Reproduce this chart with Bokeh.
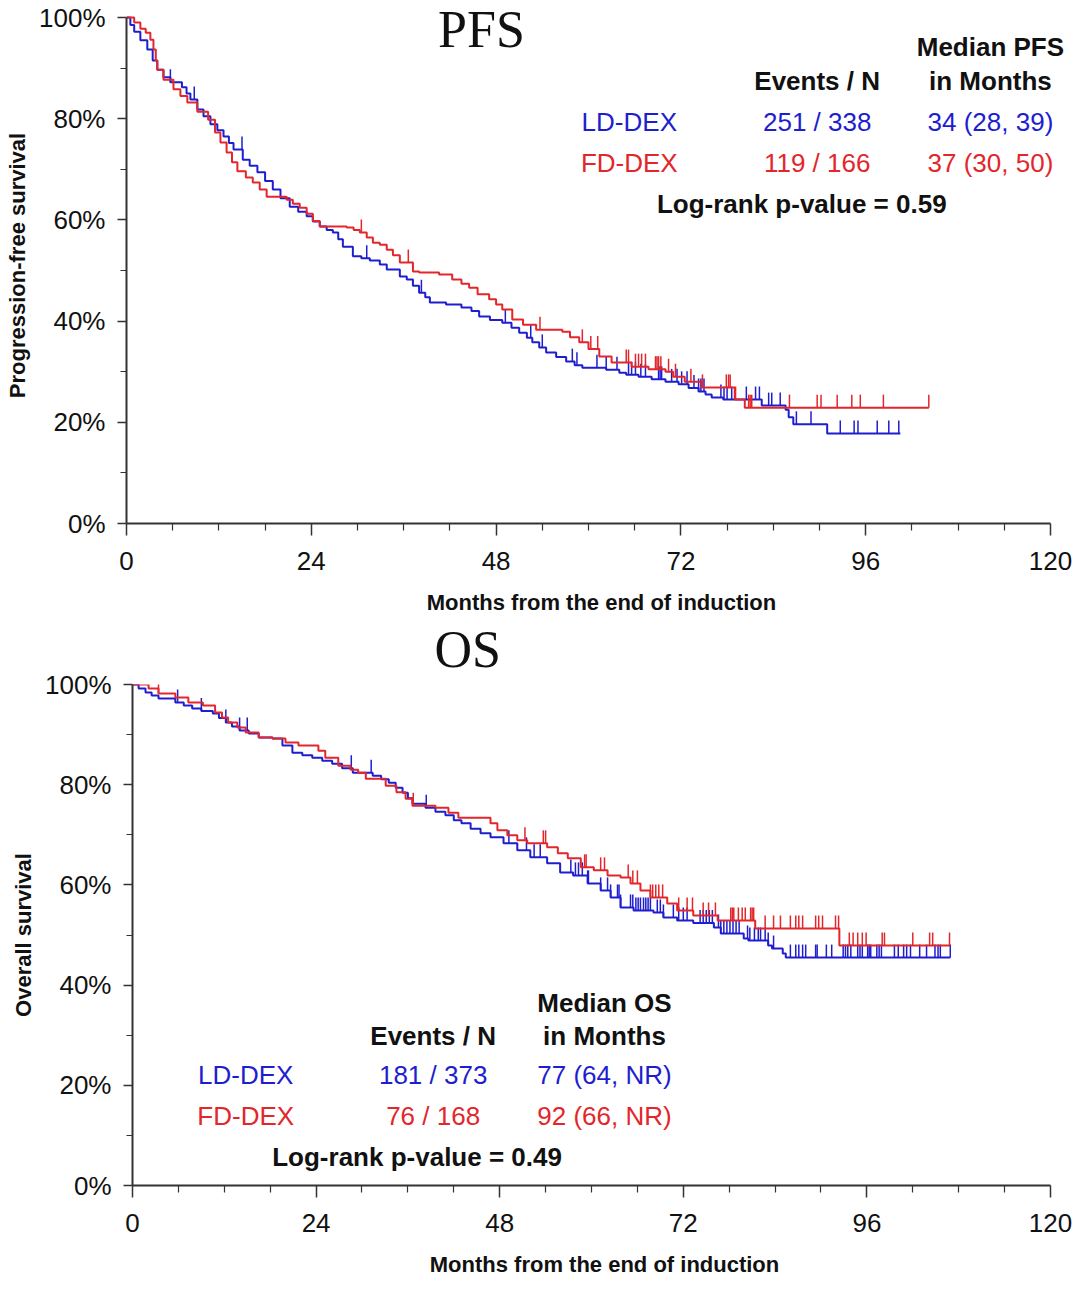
import numpy as np
from bokeh.plotting import figure
from bokeh.models import Range1d, FixedTicker, NumeralTickFormatter, Label, Title
from bokeh.embed import file_html
from bokeh.resources import INLINE

BLUE = "#1e1ecf"
RED = "#e3262b"

# ---------------- PFS data ----------------
pfs_ld_t = [0, 0.5, 1.0, 1.8, 2.7, 3.4, 4.0, 4.8, 5.7, 7.2, 7.8, 8.3, 9.2, 10.0, 10.9, 11.8, 12.6, 13.3,
            13.9, 15.1, 16.0, 17.0, 18.0, 19.0, 20.0, 21.2, 22.3, 23.4, 24.2, 25.1, 26.0, 26.8, 27.5, 28.1,
            29.4, 30.5, 31.6, 32.9, 33.8, 35.5, 36.4, 37.2, 38.0, 38.8, 39.4, 41.5, 43.5, 44.8, 45.8, 47.2,
            48.8, 50.0, 51.0, 52.0, 52.7, 53.6, 54.5, 55.8, 57.1, 58.2, 59.2, 62.3, 64.0, 64.9, 66.5, 68.2,
            70.0, 71.7, 73.0, 74.3, 75.2, 76.0, 77.5, 82.5, 85.6, 86.0, 86.6, 91.0, 100.5]
pfs_ld_s = [1.0, 0.985, 0.972, 0.955, 0.937, 0.915, 0.897, 0.882, 0.872, 0.862, 0.850, 0.838, 0.818, 0.805,
            0.789, 0.777, 0.765, 0.752, 0.739, 0.719, 0.707, 0.694, 0.677, 0.660, 0.643, 0.626, 0.616, 0.607,
            0.597, 0.587, 0.580, 0.575, 0.562, 0.547, 0.528, 0.524, 0.520, 0.512, 0.502, 0.488, 0.482, 0.470,
            0.456, 0.447, 0.437, 0.433, 0.427, 0.420, 0.409, 0.402, 0.397, 0.387, 0.377, 0.367, 0.358, 0.348,
            0.338, 0.329, 0.320, 0.313, 0.308, 0.304, 0.298, 0.294, 0.290, 0.285, 0.280, 0.275, 0.268, 0.261,
            0.255, 0.249, 0.245, 0.233, 0.225, 0.210, 0.196, 0.178, 0.178]
pfs_ld_cens = [5.7, 8.8, 15.0, 31.2, 38.3, 49.2, 52.5, 54.0, 57.9, 58.5, 61.1, 62.3, 63.7, 65.2, 65.6, 66.1,
               66.8, 67.4, 69.1, 69.3, 69.5, 70.8, 71.5, 72.1, 72.8, 73.7, 74.3, 74.6, 75.0, 77.2, 77.6, 78.0,
               78.6, 80.5, 81.7, 82.2, 83.4, 83.8, 84.9, 87.0, 88.9, 92.7, 94.5, 95.0, 97.5, 99.0, 100.3]

pfs_fd_t = [0, 1.0, 1.8, 2.5, 3.1, 3.5, 3.8, 4.0, 4.8, 6.1, 7.0, 7.9, 9.2, 10.6, 11.5, 12.2, 13.0, 13.7,
            14.4, 15.5, 16.4, 17.3, 18.2, 20.8, 21.6, 22.5, 23.4, 24.2, 25.1, 28.6, 29.5, 30.3, 31.2, 32.0,
            32.9, 33.8, 34.6, 35.5, 37.2, 38.0, 40.6, 42.3, 43.5, 44.5, 45.6, 47.1, 48.0, 48.8, 50.1, 51.5,
            53.2, 56.6, 57.6, 58.8, 60.0, 61.4, 63.0, 65.6, 67.8, 70.0, 71.0, 72.5, 74.7, 79.0, 80.3, 104.2]
pfs_fd_s = [1.0, 0.99, 0.978, 0.970, 0.956, 0.937, 0.915, 0.897, 0.877, 0.858, 0.845, 0.832, 0.814, 0.798,
            0.773, 0.753, 0.733, 0.714, 0.696, 0.684, 0.674, 0.660, 0.646, 0.640, 0.632, 0.624, 0.612, 0.598,
            0.587, 0.585, 0.580, 0.575, 0.565, 0.555, 0.551, 0.541, 0.530, 0.516, 0.498, 0.496, 0.492, 0.482,
            0.474, 0.466, 0.453, 0.443, 0.433, 0.423, 0.403, 0.393, 0.383, 0.379, 0.368, 0.358, 0.345, 0.330,
            0.318, 0.310, 0.305, 0.300, 0.290, 0.280, 0.269, 0.245, 0.229, 0.229]
pfs_fd_cens = [30.5, 36.6, 53.7, 59.2, 60.3, 61.2, 64.9, 65.2, 66.1, 66.5, 66.9, 67.4, 68.7, 68.9, 69.1, 69.4,
               70.4, 71.3, 73.3, 74.8, 77.9, 78.2, 78.4, 79.1, 80.8, 81.0, 81.2, 86.1, 89.7, 90.2, 92.3, 94.2,
               95.3, 98.3, 104.2]

# ---------------- OS data ----------------
os_ld_t = [0, 0.8, 1.7, 2.5, 3.4, 5.6, 6.7, 7.8, 9.0, 10.5, 11.3, 12.2, 13.0, 14.0, 15.2, 16.5, 18.3, 19.6,
           20.9, 22.2, 23.5, 24.8, 26.1, 27.4, 28.8, 31.4, 32.5, 33.5, 34.4, 35.3, 36.0, 36.6, 38.3, 39.6,
           40.9, 42.0, 43.0, 44.2, 45.5, 46.8, 48.5, 50.3, 52.0, 54.2, 55.9, 57.6, 59.5, 61.2, 62.5, 63.8,
           65.5, 68.1, 69.4, 71.2, 73.3, 76.0, 76.9, 79.9, 80.5, 83.1, 83.6, 85.0, 85.4, 106.9]
os_ld_s = [1.0, 0.992, 0.984, 0.978, 0.972, 0.964, 0.958, 0.952, 0.947, 0.942, 0.933, 0.924, 0.916, 0.908,
           0.902, 0.894, 0.892, 0.878, 0.864, 0.859, 0.854, 0.848, 0.842, 0.833, 0.824, 0.818, 0.811, 0.804,
           0.794, 0.784, 0.773, 0.762, 0.754, 0.746, 0.739, 0.729, 0.723, 0.712, 0.703, 0.695, 0.683, 0.669,
           0.655, 0.643, 0.625, 0.619, 0.603, 0.589, 0.575, 0.555, 0.549, 0.545, 0.535, 0.529, 0.524, 0.515,
           0.503, 0.493, 0.489, 0.479, 0.473, 0.463, 0.455, 0.455]
os_ld_cens = [5.9, 9.0, 12.2, 14.0, 15.0, 28.6, 31.2, 38.4, 49.2, 51.5, 52.5, 53.3, 57.3, 57.9, 58.3, 58.8,
              59.5, 59.6, 61.2, 62.1, 62.5, 63.4, 63.6, 63.8, 65.1, 65.4, 65.8, 66.1, 66.4, 66.8, 67.1, 67.4,
              67.7, 68.6, 69.0, 69.4, 70.7, 71.4, 72.0, 72.5, 74.2, 74.6, 75.0, 75.4, 75.8, 76.6, 76.9, 77.3,
              77.7, 78.1, 78.5, 78.9, 79.3, 80.4, 80.7, 81.3, 81.8, 82.1, 82.7, 83.1, 83.8, 86.0, 86.7, 87.1,
              87.6, 88.0, 89.3, 89.5, 90.7, 91.4, 92.9, 93.2, 93.5, 93.9, 94.8, 95.1, 95.4, 96.1, 96.3, 96.5,
              97.3, 97.6, 97.9, 99.6, 100.1, 100.8, 101.2, 101.7, 102.9, 103.8, 104.9, 105.3, 105.6, 106.9]

os_fd_t = [0, 2.1, 3.4, 5.6, 7.3, 9.2, 10.8, 11.7, 12.5, 13.7, 14.8, 16.5, 18.3, 20.0, 21.7, 24.3, 25.2,
           26.9, 28.5, 29.5, 30.5, 33.1, 34.5, 35.7, 36.6, 39.6, 41.3, 42.6, 46.8, 47.7, 49.0, 50.3, 51.6,
           54.2, 55.6, 56.9, 58.6, 60.3, 62.1, 63.8, 65.1, 66.4, 67.7, 69.9, 71.2, 73.3, 76.5, 81.4, 92.4,
           106.9]
os_fd_s = [1.0, 0.992, 0.982, 0.974, 0.964, 0.958, 0.944, 0.934, 0.924, 0.914, 0.904, 0.894, 0.892, 0.884,
           0.878, 0.868, 0.854, 0.838, 0.830, 0.824, 0.812, 0.798, 0.785, 0.772, 0.758, 0.754, 0.744, 0.734,
           0.723, 0.709, 0.699, 0.689, 0.683, 0.675, 0.663, 0.653, 0.635, 0.629, 0.619, 0.615, 0.603, 0.589,
           0.575, 0.563, 0.549, 0.539, 0.529, 0.513, 0.479, 0.479]
os_fd_cens = [3.4, 36.7, 51.3, 53.7, 54.0, 59.1, 59.3, 61.2, 61.7, 64.8, 65.4, 66.0, 67.7, 68.0, 68.4, 68.8,
              69.3, 71.4, 72.5, 73.2, 74.6, 75.3, 76.2, 78.2, 78.4, 78.6, 79.2, 79.7, 80.1, 80.8, 81.0, 81.2,
              82.7, 83.8, 84.7, 86.0, 86.7, 87.1, 87.6, 89.3, 89.7, 90.2, 91.9, 92.3, 93.7, 94.2, 94.8, 95.4,
              95.9, 98.0, 98.3, 102.0, 104.2, 104.6, 106.8]

x_ticks = [0, 24, 48, 72, 96, 120]
x_minor = [6, 12, 18, 30, 36, 42, 54, 60, 66, 78, 84, 90, 102, 108, 114]
y_ticks = [0, 0.2, 0.4, 0.6, 0.8, 1.0]
y_minor = [0.1, 0.3, 0.5, 0.7, 0.9]

FONT = "Liberation Sans"


def step_at(ts, ss, tc):
    ts = np.asarray(ts)
    ss = np.asarray(ss)
    idx = np.searchsorted(ts, np.asarray(tc), side="right") - 1
    idx = np.clip(idx, 0, len(ss) - 1)
    return ss[idx]


def make_panel(width, height, borders, x_end, y_end, ylabel, curves):
    left, right, top, bottom = borders
    p = figure(width=width, height=height, output_backend="svg", toolbar_location=None,
               x_range=Range1d(0, x_end), y_range=Range1d(0, y_end),
               min_border_left=left, min_border_right=right, min_border_top=top,
               min_border_bottom=bottom)
    p.xgrid.visible = False
    p.ygrid.visible = False
    p.outline_line_color = None
    p.background_fill_color = "white"
    p.border_fill_color = "white"

    for ax in (p.xaxis[0], p.yaxis[0]):
        ax.axis_line_width = 2
        ax.axis_line_color = "#333333"
        ax.major_tick_line_color = "#333333"
        ax.minor_tick_line_color = "#333333"
        ax.major_tick_line_width = 1.5
        ax.minor_tick_line_width = 1.2
        ax.major_tick_in = 0
        ax.minor_tick_in = 0
        ax.major_label_text_font = FONT
        ax.major_label_text_font_size = "26px"
        ax.major_label_text_color = "#111111"
        ax.axis_label_text_font = FONT
        ax.axis_label_text_font_style = "bold"
        ax.axis_label_text_font_size = "22px"
        ax.axis_label_text_color = "#111111"

    p.xaxis.bounds = (0, 120)
    p.xaxis.ticker = FixedTicker(ticks=x_ticks, minor_ticks=x_minor)
    p.xaxis.major_tick_out = 12
    p.xaxis.minor_tick_out = 7
    p.xaxis.major_label_standoff = 16
    p.xaxis.axis_label = "Months from the end of induction"
    p.xaxis.axis_label_standoff = 17

    p.yaxis.bounds = (0, 1)
    p.yaxis.ticker = FixedTicker(ticks=y_ticks, minor_ticks=y_minor)
    p.yaxis.formatter = NumeralTickFormatter(format="0%")
    p.yaxis.major_tick_out = 9
    p.yaxis.minor_tick_out = 6
    p.yaxis.major_label_standoff = 12
    p.yaxis.axis_label = ylabel
    p.yaxis.axis_label_standoff = 6

    for ts, ss, cens, col in curves:
        p.step(x=ts, y=ss, mode="after", line_color=col, line_width=2)
        cy = step_at(ts, ss, cens)
        p.ray(x=cens, y=cy, length=13, length_units="screen", angle=np.pi / 2,
              line_color=col, line_width=1.5)
    return p


def add_text(p, x, y, text, color="#111111", bold=False, size="26px", font=FONT, align="center"):
    p.add_layout(Label(x=x, y=y, text=text, text_color=color, text_font=font,
                       text_font_size=size, text_font_style="bold" if bold else "normal",
                       text_align=align, text_baseline="middle"))


# ---- top: PFS ----
p1 = make_panel(1076, 622, (126, 0, 7, 99), 123.38, 1.0198, "Progression-free survival",
                [(pfs_ld_t, pfs_ld_s, pfs_ld_cens, BLUE), (pfs_fd_t, pfs_fd_s, pfs_fd_cens, RED)])
add_text(p1, 46.1, 0.976, "PFS", size="52px", font="Liberation Serif")
add_text(p1, 112.2, 0.941, "Median PFS", bold=True)
add_text(p1, 112.2, 0.875, "in Months", bold=True)
add_text(p1, 89.7, 0.875, "Events / N", bold=True)
add_text(p1, 65.3, 0.794, "LD-DEX", color=BLUE)
add_text(p1, 89.7, 0.794, "251 / 338", color=BLUE)
add_text(p1, 112.2, 0.794, "34 (28, 39)", color=BLUE)
add_text(p1, 65.3, 0.713, "FD-DEX", color=RED)
add_text(p1, 89.7, 0.713, "119 / 166", color=RED)
add_text(p1, 112.2, 0.713, "37 (30, 50)", color=RED)
add_text(p1, 87.7, 0.632, "Log-rank p-value = 0.59", bold=True)

# ---- bottom: OS ----
p2 = make_panel(1076, 678, (132, 0, 72, 105), 123.4, 1.0, "Overall survival",
                [(os_ld_t, os_ld_s, os_ld_cens, BLUE), (os_fd_t, os_fd_s, os_fd_cens, RED)])
p2.border_fill_color = None
p2.styles = {"margin-top": "-10px"}
p2.add_layout(Title(text="OS", text_font="Liberation Serif", text_font_size="52px",
                    text_font_style="normal", text_color="#111111", align="left",
                    offset=302, standoff=10, vertical_align="top"), "above")
add_text(p2, 61.7, 0.365, "Median OS", bold=True)
add_text(p2, 61.7, 0.299, "in Months", bold=True)
add_text(p2, 39.3, 0.299, "Events / N", bold=True)
add_text(p2, 14.8, 0.220, "LD-DEX", color=BLUE)
add_text(p2, 39.3, 0.220, "181 / 373", color=BLUE)
add_text(p2, 61.7, 0.220, "77 (64, NR)", color=BLUE)
add_text(p2, 14.8, 0.138, "FD-DEX", color=RED)
add_text(p2, 39.3, 0.138, "76 / 168", color=RED)
add_text(p2, 61.7, 0.138, "92 (66, NR)", color=RED)
add_text(p2, 37.2, 0.056, "Log-rank p-value = 0.49", bold=True)

open("out.html", "w").write(file_html([p1, p2], INLINE))
